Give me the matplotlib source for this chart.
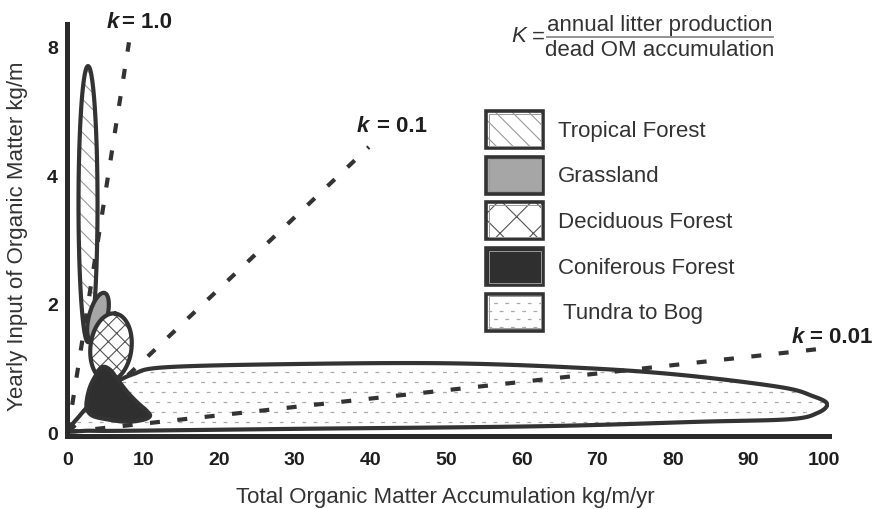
import numpy as np
import matplotlib.pyplot as plt
from matplotlib.patches import Polygon, Rectangle
from matplotlib.lines import Line2D

plt.rcParams['font.family'] = ['Liberation Sans', 'DejaVu Sans']
plt.rcParams['hatch.linewidth'] = 0.8

# axis ticks (the y axis is drawn with a break: the top tick reads 8)
x_ticks = [0, 10, 20, 30, 40, 50, 60, 70, 80, 90, 100]
y_tick_pos = [0, 2, 4, 6]
y_tick_labels = ['0', '2', '4', '8']

# k = production / accumulation reference lines, end points on the axes
k_labels = ['1.0', '0.1', '0.01']
k_end_x = [8.07, 39.8, 99.1]
k_end_y = [6.07, 4.44, 1.29]

# biomes
biome_names = ['Tropical Forest', 'Grassland', 'Deciduous Forest',
               'Coniferous Forest', 'Tundra to Bog']

# elliptical regions: centre (data), semi axes (px), tilt (deg)
ell_names = ['Tropical Forest', 'Grassland', 'Deciduous Forest']
ell_cx = [2.65, 3.97, 5.69]
ell_cy = [3.55, 1.79, 1.32]
ell_a = [138, 25, 34]
ell_b = [9.5, 9, 20.5]
ell_ang = [90, 75, 83]

# outlines
conif_x = [4.50, 3.57, 2.91, 2.51, 2.51, 3.31, 5.56, 7.80, 9.92, 10.85,
           10.32, 9.26, 7.94, 6.61, 5.56]
conif_y = [1.01, 0.86, 0.70, 0.51, 0.36, 0.25, 0.19, 0.16, 0.19, 0.25,
           0.34, 0.45, 0.61, 0.81, 0.97]
tundra_x = [0.26, 1.59, 3.57, 5.82, 8.60, 13.1, 30.7, 50.5, 67.7, 81.0,
            94.2, 98.5, 100.4, 99.2, 95.5, 83.6, 62.4, 30.7, 8.2, 2.9]
tundra_y = [0.03, 0.26, 0.51, 0.73, 0.90, 1.01, 1.06, 1.07, 1.00, 0.89,
            0.70, 0.56, 0.44, 0.30, 0.20, 0.16, 0.09, 0.05, 0.02, 0.02]

W, H = 874, 510
EDGE = '#333333'


def fx(px):
    return px / W


def fy(py):
    return 1 - py / H


def smooth_closed(xs, ys, n=16):
    p = np.column_stack([xs, ys])
    m = len(p)
    t = np.linspace(0, 1, n, endpoint=False)[:, None]
    out = []
    for i in range(m):
        p0, p1, p2, p3 = p[i - 1], p[i], p[(i + 1) % m], p[(i + 2) % m]
        out.append(0.5 * (2 * p1 + (p2 - p0) * t
                          + (2 * p0 - 5 * p1 + 4 * p2 - p3) * t ** 2
                          + (3 * p1 - p0 - 3 * p2 + p3) * t ** 3))
    return np.vstack(out)


fig = plt.figure(figsize=(W / 100, H / 100), dpi=100)
ax = fig.add_axes([fx(67), fy(437), (829 - 67) / W, (437 - 25) / H])
ax.set_xlim(-0.13, 100.66)
ax.set_ylim(-0.062, 6.355)

# pixels per data unit, used for the tilted ellipses
o = ax.transData.transform((0, 0))
XPX = ax.transData.transform((1, 0))[0] - o[0]
YPX = ax.transData.transform((0, 1))[1] - o[1]


def ellipse_pts(cx, cy, a, b, ang):
    t = np.linspace(0, 2 * np.pi, 240)
    th = np.radians(ang)
    dx = a * np.cos(t) * np.cos(th) - b * np.sin(t) * np.sin(th)
    dy = a * np.cos(t) * np.sin(th) + b * np.sin(t) * np.cos(th)
    return np.column_stack([cx + dx / XPX, cy + dy / YPX])


def region(pts, z, face='white', hatch=None, hatch_col=None):
    fill = Polygon(pts, closed=True, facecolor=face, edgecolor=hatch_col or 'none',
                   hatch=hatch, lw=0, zorder=z)
    ax.add_patch(fill)
    ax.add_patch(Polygon(pts, closed=True, facecolor='none', edgecolor=EDGE,
                         lw=3, zorder=z + 0.2, joinstyle='round'))
    return fill


def dash_rows(clip, x0, x1, y0, y1, step, trans, z, adder):
    ys = np.arange(y0, y1, step)
    for i, yy in enumerate(ys):
        ln = Line2D([x0, x1], [yy, yy], color='#a9a9a9', lw=0.9,
                    linestyle=((i % 2) * 4.5, (3, 6)), transform=trans, zorder=z)
        adder(ln)
        ln.set_clip_path(clip)


# tundra to bog
tpts = smooth_closed(tundra_x, tundra_y)
tfill = region(tpts, 2)
dash_rows(tfill, -1, 102, 0.0, 1.2, 10 / YPX, ax.transData, 2.1, ax.add_line)

# tropical forest
i = 0
region(ellipse_pts(ell_cx[i], ell_cy[i], ell_a[i], ell_b[i], ell_ang[i]), 3,
       hatch='\\\\', hatch_col='#9a9a9a')

# k lines
for lab, ex, ey in zip(k_labels, k_end_x, k_end_y):
    ax.plot([0, ex], [0, ey], color=EDGE, lw=3, linestyle=(0, (2.4, 4.2)),
            solid_capstyle='butt', zorder=3.5)

# grassland, deciduous
i = 1
region(ellipse_pts(ell_cx[i], ell_cy[i], ell_a[i], ell_b[i], ell_ang[i]), 4,
       face='#a6a6a6')
i = 2
region(ellipse_pts(ell_cx[i], ell_cy[i], ell_a[i], ell_b[i], ell_ang[i]), 5,
       hatch='xx', hatch_col='#555555')

# coniferous
region(smooth_closed(conif_x, conif_y), 6, face='#2f2f2f')

# axes
for s in ['top', 'right']:
    ax.spines[s].set_visible(False)
for s in ['left', 'bottom']:
    ax.spines[s].set_linewidth(3.6)
    ax.spines[s].set_color('#2b2b2b')
    ax.spines[s].set_zorder(10)
ax.set_xticks(x_ticks, [str(v) for v in x_ticks], fontsize=14,
              fontweight='bold', color='#1e1e1e')
ax.set_yticks(y_tick_pos, y_tick_labels, fontsize=14, fontweight='bold',
              color='#1e1e1e')
ax.tick_params(axis='x', length=0, pad=11)
ax.tick_params(axis='y', length=0, pad=6.5)

ax.set_xlabel('Total Organic Matter Accumulation kg/m/yr', fontsize=16,
              color='#333333', va='center')
ax.xaxis.set_label_coords((445 - 67) / 762, (437 - 498) / 412)
ax.set_ylabel('Yearly Input of Organic Matter kg/m', fontsize=16,
              color='#333333', va='center')
ax.yaxis.set_label_coords((18 - 67) / 762, (437 - 236) / 412)

# k labels
k_pos = [(107, 122, 23), (357, 377, 127), (792, 810, 338)]
for lab, (kx, ex, ky) in zip(k_labels, k_pos):
    fig.text(fx(kx), fy(ky), 'k', fontsize=16, fontweight='bold',
             fontstyle='italic', color='#1e1e1e', va='center')
    fig.text(fx(ex), fy(ky), '= ' + lab, fontsize=16, fontweight='bold',
             color='#1e1e1e', va='center')

# K formula
fig.text(fx(545), fy(37), '=', fontsize=16, color='#333333', ha='right', va='center')
fig.text(fx(526), fy(37), 'K', fontsize=16, color='#333333', ha='right', va='center',
         fontstyle='italic')
fig.text(fx(660), fy(25), 'annual litter production', fontsize=16,
         color='#333333', ha='center', va='center')
fig.text(fx(660), fy(50), 'dead OM accumulation', fontsize=16,
         color='#333333', ha='center', va='center')
fig.add_artist(Line2D([fx(547), fx(773)], [fy(38), fy(38)], color='#8a8a8a',
                      lw=1.3, transform=fig.transFigure))

# legend
leg_face = ['white', '#a6a6a6', 'white', '#2f2f2f', 'white']
leg_hatch = ['\\\\', None, 'x', None, None]
leg_hcol = ['#9a9a9a', None, '#555555', None, None]
leg_tx = [558, 558, 558, 558, 563]
for i, name in enumerate(biome_names):
    top = 112 + 45.7 * i
    box = Rectangle((fx(486), fy(top + 37)), 57 / W, 37 / H, transform=fig.transFigure,
                    facecolor=leg_face[i], edgecolor=leg_hcol[i] or 'none',
                    hatch=leg_hatch[i], lw=0)
    fig.add_artist(box)
    if name == 'Tundra to Bog':
        dash_rows(box, fx(488), fx(541), fy(top + 33), fy(top + 2), 8 / H,
                  fig.transFigure, 2, fig.add_artist)
    fig.add_artist(Rectangle((fx(486), fy(top + 37)), 57 / W, 37 / H,
                             transform=fig.transFigure, facecolor='none',
                             edgecolor=EDGE, lw=2.6))
    fig.add_artist(Rectangle((fx(488.5), fy(top + 34.5)), 52 / W, 32 / H,
                             transform=fig.transFigure, facecolor='none',
                             edgecolor='#9a9a9a', lw=0.7))
    fig.text(fx(leg_tx[i]), fy(top + 19), name, fontsize=16, color='#333333',
             va='center')

fig.savefig('out.png', dpi=100)
